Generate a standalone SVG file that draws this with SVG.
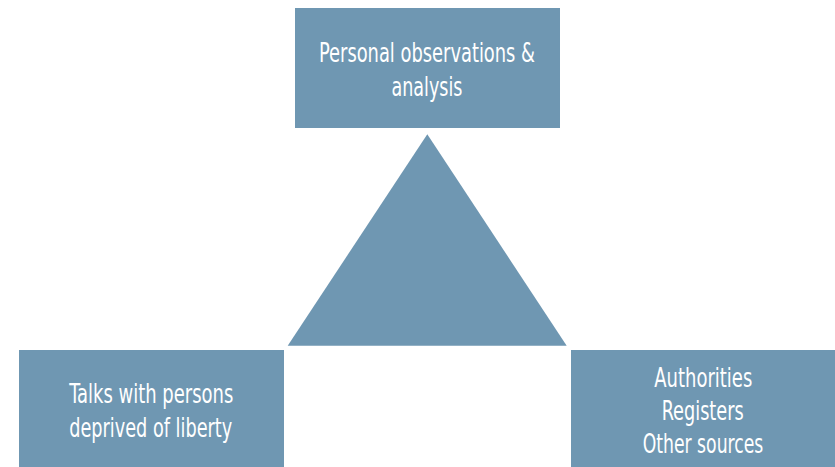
<svg xmlns="http://www.w3.org/2000/svg" width="835" height="467" viewBox="0 0 835 467">
<style>
.box{fill:#6f97b2}
.lbl{font-family:"DejaVu Sans Condensed","DejaVu Sans",sans-serif;font-stretch:condensed;font-size:26px;fill:#ffffff;text-anchor:middle}
</style>
<rect width="835" height="467" fill="#ffffff"/>
<g id="node-observations">
<rect class="box" x="295" y="8" width="265" height="120"/>
<text class="lbl" x="427" y="62" textLength="216" lengthAdjust="spacingAndGlyphs">Personal observations &amp;</text>
<text class="lbl" x="427" y="96" textLength="71" lengthAdjust="spacingAndGlyphs">analysis</text>
</g>
<g id="node-triangle">
<polygon class="box" points="427.3,134.3 566.7,345.7 287.7,345.7"/>
</g>
<g id="node-talks">
<rect class="box" x="19" y="350" width="265" height="117"/>
<text class="lbl" x="151.3" y="403" textLength="164" lengthAdjust="spacingAndGlyphs">Talks with persons</text>
<text class="lbl" x="150.7" y="436.5" textLength="163" lengthAdjust="spacingAndGlyphs">deprived of liberty</text>
</g>
<g id="node-authorities">
<rect class="box" x="571" y="350" width="264" height="117"/>
<text class="lbl" x="703.3" y="386.7" textLength="98" lengthAdjust="spacingAndGlyphs">Authorities</text>
<text class="lbl" x="702.7" y="420" textLength="82" lengthAdjust="spacingAndGlyphs">Registers</text>
<text class="lbl" x="703" y="453.3" textLength="120.7" lengthAdjust="spacingAndGlyphs">Other sources</text>
</g>
<g id="connectors"/>
</svg>
